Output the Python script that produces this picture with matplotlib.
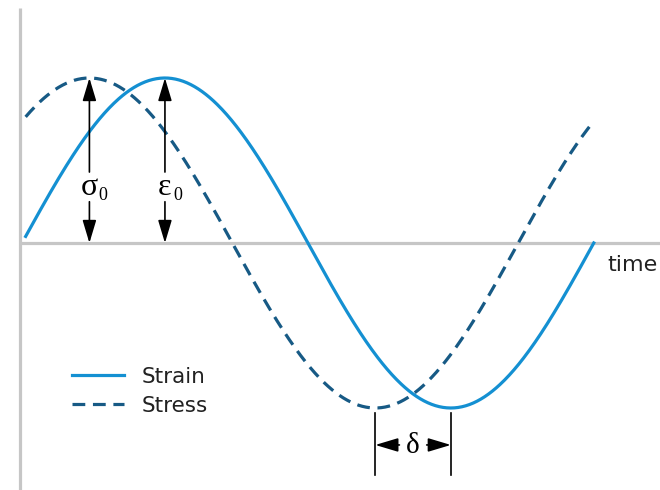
import numpy as np
import matplotlib
matplotlib.use("Agg")
import matplotlib.pyplot as plt

# Chart values
series_names = ["Strain", "Stress"]
amplitude_strain = 1.0      # epsilon_0
amplitude_stress = 1.0      # sigma_0
phase_lag = 0.83            # delta (rad), stress leads strain
t_start, t_end = 0.04, 2 * np.pi
time_label = "time"
amp_symbols = ["σ", "ε"]
lag_symbol = "δ"

strain_color = "#1490d2"
stress_color = "#175a85"
axis_gray = "#c6c6c6"

fig = plt.figure(figsize=(6.6, 4.9), dpi=100)
ax = fig.add_axes([0, 0, 1, 1])
ax.set_xlim(-22 / 91, 638 / 91)
ax.set_ylim(-1.497, 1.4727)
ax.axis('off')

t = np.linspace(t_start, t_end, 600)
strain = amplitude_strain * np.sin(t)
stress = amplitude_stress * np.sin(t + phase_lag)

# axes lines
ax.plot([-0.02, -0.02], [-1.6, 1.425], color=axis_gray, lw=2.3, solid_capstyle='butt', zorder=1)
ax.plot([-0.02, 7.2], [0, 0], color=axis_gray, lw=2.3, solid_capstyle='butt', zorder=1)

ax.plot(t, strain, color=strain_color, lw=2.3, label=series_names[0], zorder=3)
ax.plot(t, stress, color=stress_color, lw=2.3, ls=(0, (4.0, 2.4)), label=series_names[1], zorder=3)

ax.text(6.43, -0.135, time_label, fontsize=16, ha='left', va='center', color='#222222')

arrow_kw = dict(arrowstyle='-|>,head_length=1.0,head_width=0.3', mutation_scale=14,
                color='black', lw=1.2, shrinkA=0, shrinkB=0)
serif = ['Liberation Serif', 'DejaVu Serif']

def amp_arrow(x, sym, amp):
    ax.annotate('', xy=(x, amp), xytext=(x, 0.43), arrowprops=arrow_kw, zorder=4)
    ax.annotate('', xy=(x, 0), xytext=(x, 0.25), arrowprops=arrow_kw, zorder=4)
    ax.text(x, 0.335, sym, fontsize=23, family=serif, ha='center', va='center', zorder=5)
    ax.text(x + 0.095, 0.285, "0", fontsize=13, family=serif, ha='left', va='center', zorder=5)

x_sig = np.pi / 2 - phase_lag
x_eps = np.pi / 2
amp_arrow(x_sig, amp_symbols[0], amplitude_stress)
amp_arrow(x_eps, amp_symbols[1], amplitude_strain)

# delta annotation
x1 = 3 * np.pi / 2 - phase_lag
x2 = 3 * np.pi / 2
for xv in (x1, x2):
    ax.plot([xv, xv], [-1.03, -1.405], color='black', lw=1.2, zorder=4)
ym = -1.224
xc = (x1 + x2) / 2
ax.text(xc, ym - 0.005, lag_symbol, fontsize=21, family=serif, ha='center', va='center', zorder=5)
ax.annotate('', xy=(x1, ym), xytext=(xc - 0.15, ym), arrowprops=arrow_kw, zorder=4)
ax.annotate('', xy=(x2, ym), xytext=(xc + 0.15, ym), arrowprops=arrow_kw, zorder=4)

leg = ax.legend(loc='upper left', bbox_to_anchor=(72 / 660, 1 - 367 / 490),
                frameon=False, fontsize=15.5, handlelength=2.4, handletextpad=0.85,
                labelspacing=0.4, borderaxespad=0, borderpad=0)
for txt in leg.get_texts():
    txt.set_color('#222222')

fig.savefig("out.png", dpi=100)
